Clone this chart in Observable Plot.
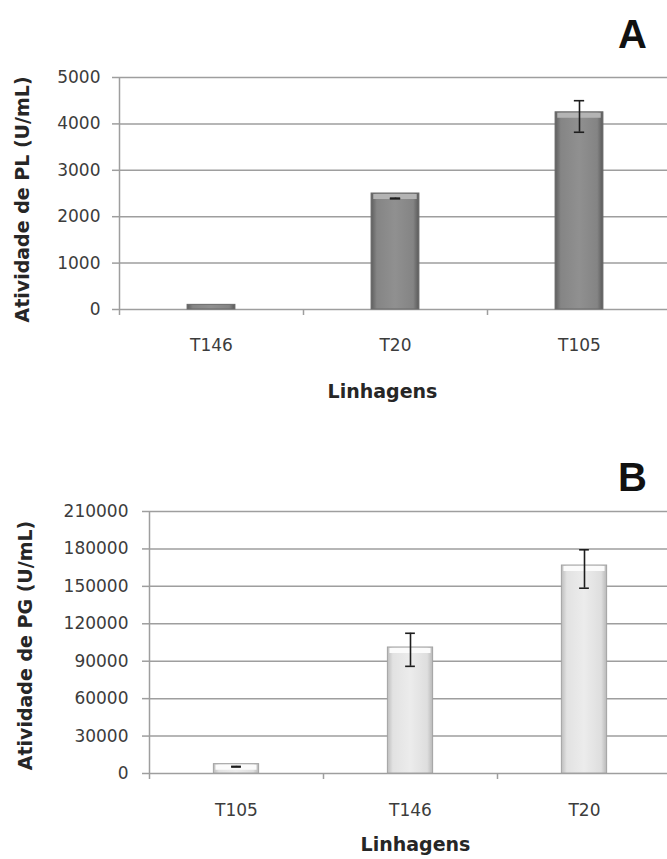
<!DOCTYPE html>
<html><head><meta charset="utf-8">
<script src="https://cdn.jsdelivr.net/npm/d3@7"></script>
<script src="https://cdn.jsdelivr.net/npm/@observablehq/plot@0.6"></script>
<style>
html,body{margin:0;padding:0;background:#fff;}
#wrap{position:relative;width:667px;height:859px;overflow:hidden;background:#fff;}
#wrap svg{position:absolute;left:0;}
</style></head><body><div id="wrap"></div>
<script>
// Panel A – PL activity
const categoriesA = ["T146", "T20", "T105"];
const valuesA = [100, 2500, 4250];
const errLowA = [null, 2385, 3820];
const errHighA = [null, 2400, 4500];
const ticksA = [0, 1000, 2000, 3000, 4000, 5000];

// Panel B – PG activity
const categoriesB = ["T105", "T146", "T20"];
const valuesB = [7500, 101000, 166700];
const errLowB = [5200, 85900, 148500];
const errHighB = [5700, 112400, 179300];
const ticksB = [0, 30000, 60000, 90000, 120000, 150000, 180000, 210000];

const xLabel = "Linhagens";

function panel(o) {
  const rows = o.cats.map((c, i) => ({i, cat: c, v: o.vals[i], lo: o.lo[i], hi: o.hi[i]}));
  const errRows = rows.filter(d => d.lo != null);
  const cap = 0.028, half = 0.13;
  const gridColor = "#9e9e9e";
  const svg = Plot.plot({
    width: 667,
    height: o.height,
    marginTop: o.marginTop,
    marginBottom: o.marginBottom,
    marginLeft: o.left,
    marginRight: 0,
    style: {fontFamily: "DejaVu Sans, sans-serif", background: "transparent", overflow: "hidden"},
    x: {domain: [0, o.cats.length], range: [o.left, 671]},
    y: {domain: [0, o.ticks[o.ticks.length - 1]]},
    marks: [
      Plot.gridY(o.ticks, {stroke: gridColor, strokeOpacity: 1, strokeWidth: 1.5}),
      Plot.ruleX([0], {y1: 0, y2: o.ticks[o.ticks.length - 1], stroke: gridColor, strokeWidth: 1.5}),
      Plot.axisY({ticks: o.ticks, tickSize: 7, tickPadding: o.tickPad, tickFormat: d => String(d),
        stroke: gridColor, strokeWidth: 1.5, fill: "#3c3c3c", fontSize: 17, label: null}),
      Plot.axisX({ticks: d3.range(o.cats.length + 1), tickSize: 6, tickFormat: () => "",
        stroke: gridColor, strokeWidth: 1.5, label: null}),
      Plot.rectY(rows, {x1: d => d.i + 0.5 - half, x2: d => d.i + 0.5 + half, y1: 0, y2: "v",
        fill: `url(#${o.fillId})`, stroke: o.barStroke, strokeWidth: 1}),
      // light bevel along the top of each bar
      Plot.ruleY(rows.filter(d => d.v > 1000), {y: "v", dy: 3, x1: d => d.i + 0.5 - half + 0.012,
        x2: d => d.i + 0.5 + half - 0.012, stroke: o.bevel, strokeWidth: 5}),
      Plot.ruleX(errRows, {x: d => d.i + 0.5, y1: "lo", y2: "hi", stroke: "#1e1e1e", strokeWidth: 1.6}),
      Plot.ruleY(errRows, {y: "hi", x1: d => d.i + 0.5 - cap, x2: d => d.i + 0.5 + cap, stroke: "#1e1e1e", strokeWidth: 1.6}),
      Plot.ruleY(errRows, {y: "lo", x1: d => d.i + 0.5 - cap, x2: d => d.i + 0.5 + cap, stroke: "#1e1e1e", strokeWidth: 1.6}),
      Plot.text(rows, {x: d => d.i + 0.5, frameAnchor: "bottom", dy: o.labelDy, text: "cat",
        fontSize: 17, fill: "#3c3c3c"}),
      Plot.text([xLabel], {frameAnchor: "bottom", dx: o.xTitleDx, dy: o.xTitleDy, text: d => d,
        fontSize: 19, fontWeight: "bold", fill: "#262626", textAnchor: "middle"}),
      Plot.text([o.yLabel], {frameAnchor: "left", dx: o.yTitleDx, dy: o.yTitleDy, rotate: -90, text: d => d,
        fontSize: 19, fontWeight: "bold", fill: "#262626", textAnchor: "middle"}),
      Plot.text([o.letter], {frameAnchor: "top-right", dx: -35, dy: o.letterDy, text: d => d,
        fontSize: 40, fontWeight: "bold", fontFamily: "Liberation Sans, Arial, sans-serif",
        fill: "#111", textAnchor: "middle", lineAnchor: "middle"})
    ]
  });
  d3.select(svg).insert("defs", ":first-child").html(
    `<linearGradient id="${o.fillId}" x1="0" x2="1" y1="0" y2="0">` +
    o.stops.map(([off, col]) => `<stop offset="${off}" stop-color="${col}"/>`).join("") +
    `</linearGradient>`);
  svg.style.top = o.top + "px";
  return svg;
}

const wrap = document.getElementById("wrap");
wrap.appendChild(panel({
  cats: categoriesA, vals: valuesA, lo: errLowA, hi: errHighA, ticks: ticksA,
  yLabel: "Atividade de PL (U/mL)", letter: "A", fillId: "gradA",
  stops: [[0, "#5e5e5e"], [0.12, "#858585"], [0.5, "#909090"], [0.88, "#848484"], [1, "#5a5a5a"]],
  barStroke: "#6a6a6a", bevel: "#b4b4b4",
  top: 0, height: 430, marginTop: 77, marginBottom: 121, left: 119, tickPad: 12,
  labelDy: 41, xTitleDx: -11, xTitleDy: 88, yTitleDx: -97, yTitleDy: 6, letterDy: -42
}));
wrap.appendChild(panel({
  cats: categoriesB, vals: valuesB, lo: errLowB, hi: errHighB, ticks: ticksB,
  yLabel: "Atividade de PG (U/mL)", letter: "B", fillId: "gradB",
  stops: [[0, "#bdbdbd"], [0.12, "#e2e2e2"], [0.5, "#ececec"], [0.88, "#dedede"], [1, "#b8b8b8"]],
  barStroke: "#a2a2a2", bevel: "#fbfbfb",
  top: 430, height: 429, marginTop: 81, marginBottom: 86, left: 149, tickPad: 14,
  labelDy: 42, xTitleDx: 7, xTitleDy: 77, yTitleDx: -124, yTitleDy: 3, letterDy: -33
}));
</script>
</body></html>
